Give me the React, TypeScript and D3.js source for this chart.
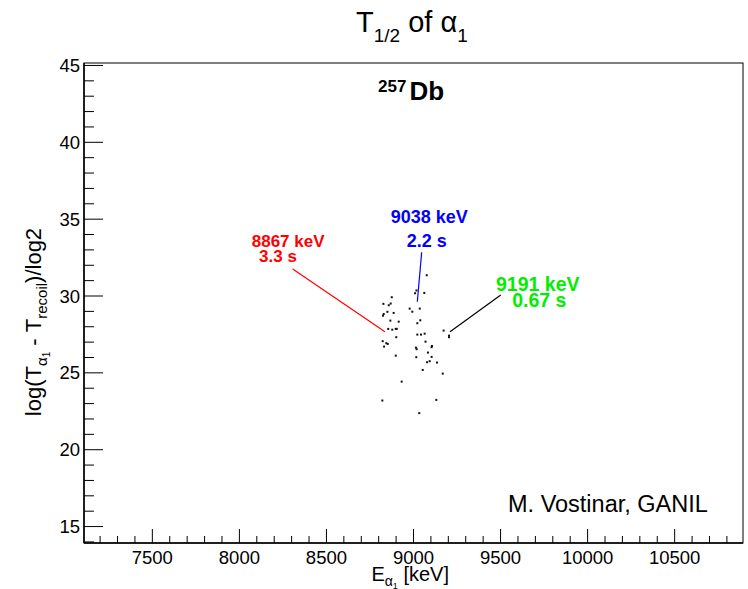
import React from "react";
import * as d3 from "d3";

// ---- data ----
const energy = [9076, 9017, 9009, 9062, 8875, 8827, 8869, 8858, 8978, 8993, 9036, 8829, 8825, 8850, 8886, 8867, 8915, 9039, 9022, 8855, 8878, 8898, 8904, 9022, 9043, 9064, 8901, 8823, 8844, 8852, 8831, 9069, 9106, 9104, 9014, 9018, 9083, 8898, 9104, 9016, 9078, 9093, 9135, 9053, 9168, 8932, 8821, 9131, 9033, 9173, 9204, 9204];
const logT = [31.35, 30.36, 30.18, 30.2, 29.92, 29.49, 29.51, 29.4, 29.18, 28.98, 29.18, 28.83, 28.72, 28.97, 28.9, 28.4, 28.33, 28.42, 28.23, 27.86, 27.81, 27.86, 27.86, 27.49, 27.49, 27.55, 27.32, 27.06, 26.93, 26.88, 26.71, 27.03, 26.75, 26.67, 26.64, 26.54, 26.32, 26.12, 26.04, 26.02, 25.69, 25.76, 25.67, 25.19, 24.95, 24.43, 23.2, 23.24, 22.38, 27.75, 27.42, 27.32];

const xMajorTicks = [7500, 8000, 8500, 9000, 9500, 10000, 10500];
const yMajorTicks = [15, 20, 25, 30, 35, 40, 45];

const lineLabels = ["8867 keV", "9038 keV", "9191 keV"];
const halfLives = ["3.3 s", "2.2 s", "0.67 s"];
const lineColors = ["#ff0000", "#0000ff", "#00ee00"];
// annotation anchors (data coords)
const labelPos = [[8071, 33.21], [8869, 34.77], [9474, 30.35]];
const halfPos = [[8113, 32.2], [8961, 33.19], [9567, 29.31]];
const pointerFrom = [[8306, 31.76], [9047, 32.85], [9501, 30.07]];
const pointerTo = [[8836, 27.68], [9022, 29.63], [9210, 27.68]];
const pointerColors = ["#ff0000", "#0000ff", "#000000"];
const labelSizes = [17, 18, 19.5];

const W = 748, H = 589;
const L = 84, R = 743, T = 63, B = 543;
const FONT = "'Liberation Sans', Arial, Helvetica, sans-serif";

export default function App() {
  const x = d3.scaleLinear().domain([7107.5, 10892.5]).range([L, R]);
  const y = d3.scaleLinear().domain([13.93, 45.16]).range([B, T]);
  const xMinor = d3.range(7200, 10900, 100).filter((v) => v % 500 !== 0);
  const yMinor = d3.range(14, 46, 1).filter((v) => v % 5 !== 0);

  return (
    <svg width={W} height={H} style={{ position: "absolute", left: 0, top: 0, background: "#fff" }} fontFamily={FONT}>
      <rect x={0} y={0} width={W} height={H} fill="#fff" />
      {/* frame */}
      <rect x={L} y={T} width={R - L} height={B - T} fill="none" stroke="#000" strokeWidth={1} />
      <line x1={L} x2={L} y1={T} y2={B} stroke="#000" strokeWidth={1.5} />
      <line x1={L} x2={R} y1={B} y2={B} stroke="#000" strokeWidth={1.5} />

      {/* x ticks */}
      {xMajorTicks.map((v) => (
        <g key={"xm" + v}>
          <line x1={x(v)} x2={x(v)} y1={B} y2={B - 14} stroke="#000" strokeWidth={1} />
          <text x={x(v)} y={564} fontSize={18.5} textAnchor="middle">{v}</text>
        </g>
      ))}
      {xMinor.map((v) => (
        <line key={"xn" + v} x1={x(v)} x2={x(v)} y1={B} y2={B - 7} stroke="#000" strokeWidth={1} />
      ))}
      {/* y ticks */}
      {yMajorTicks.map((v) => (
        <g key={"ym" + v}>
          <line x1={L} x2={L + 19} y1={y(v)} y2={y(v)} stroke="#000" strokeWidth={1} />
          <text x={80} y={y(v) + 6.5} fontSize={18.5} textAnchor="end">{v}</text>
        </g>
      ))}
      {yMinor.map((v) => (
        <line key={"yn" + v} x1={L} x2={L + 10} y1={y(v)} y2={y(v)} stroke="#000" strokeWidth={1} />
      ))}

      {/* axis titles */}
      <text x={449} y={581} fontSize={20} textAnchor="end">
        E<tspan fontSize={14} dy={5}>α</tspan><tspan fontSize={9} dy={3}>1</tspan><tspan fontSize={20} dy={-8}> [keV]</tspan>
      </text>
      <text transform="translate(41,322) rotate(-90)" fontSize={22} textAnchor="middle">
        log(T<tspan fontSize={15} dy={6}>α</tspan><tspan fontSize={10} dy={3}>1</tspan><tspan fontSize={22} dy={-9}> - T</tspan><tspan fontSize={15} dy={6}>recoil</tspan><tspan fontSize={22} dy={-6}>)/log2</tspan>
      </text>

      {/* title */}
      <text x={356} y={32} fontSize={29}>
        T<tspan fontSize={19} dy={10}>1/2</tspan><tspan fontSize={29} dy={-10}> of α</tspan><tspan fontSize={19} dy={10}>1</tspan>
      </text>
      <text x={378} y={100} fontWeight="bold">
        <tspan fontSize={17} dy={-8}>257</tspan><tspan fontSize={26} dy={8} dx={3}>Db</tspan>
      </text>
      <text x={508} y={512} fontSize={23.5}>M. Vostinar, GANIL</text>

      {/* points */}
      {energy.map((e, i) => (
        <rect key={"p" + i} x={x(e) - 1} y={y(logT[i]) - 1} width={2} height={2} fill="#111" />
      ))}

      {/* pointer lines */}
      {pointerFrom.map((p, i) => (
        <line key={"pl" + i} x1={x(p[0])} y1={y(p[1])} x2={x(pointerTo[i][0])} y2={y(pointerTo[i][1])} stroke={pointerColors[i]} strokeWidth={1.2} />
      ))}
      {lineLabels.map((s, i) => (
        <g key={"lab" + i} fill={lineColors[i]} fontWeight="bold" fontSize={labelSizes[i]}>
          <text x={x(labelPos[i][0])} y={y(labelPos[i][1])}>{s}</text>
          <text x={x(halfPos[i][0])} y={y(halfPos[i][1])}>{halfLives[i]}</text>
        </g>
      ))}
    </svg>
  );
}
